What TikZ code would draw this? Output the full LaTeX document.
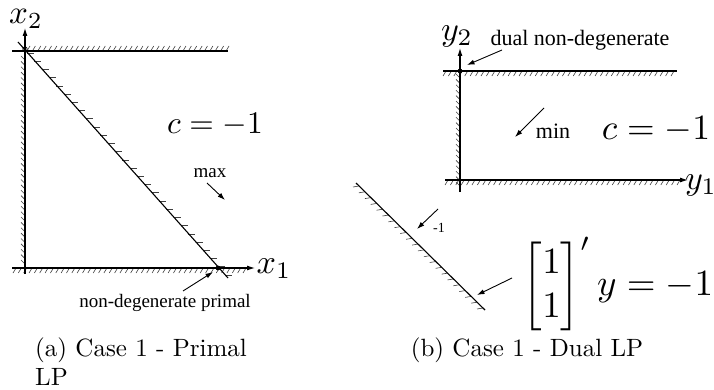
\documentclass[tikz,border=0pt]{standalone}
\usepackage{amsmath}
\usepackage{graphicx}
\usepackage{fontspec}
\newfontfamily\timesf{Liberation Serif}
\usetikzlibrary{calc,arrows.meta}
\newcommand\hatchline[4]{\foreach \i in {0,...,#3}{\draw[hatch] ($#1!\i/#3!#2$) -- ++(#4);}}
\begin{document}
\begin{tikzpicture}[x=1pt,y=-1pt,
  line/.style={line width=1.1pt},
  axis/.style={line width=1.1pt,-{Latex[length=8pt,width=5pt]}},
  hatch/.style={line width=0.6pt,black!75},
  arr/.style={line width=0.9pt,-{Latex[length=7.5pt,width=5pt]}},
  tlab/.style={inner sep=0pt,font=\timesf\fontsize{19}{22}\selectfont},
  tlabR/.style={inner sep=0pt,font=\timesf\fontsize{22}{26}\selectfont},
  mlab/.style={inner sep=0pt},
  captext/.style={inner sep=0pt}]
\useasboundingbox (0,0) rectangle (714,390);
% ---------------- left panel ----------------
\coordinate (x2tip) at (25,28);
\coordinate (x1tip) at (255,268);
\coordinate (x2base) at (25,274);
\coordinate (x1base) at (12,268);
\coordinate (topA) at (12,51);
\coordinate (topB) at (228,51);
\coordinate (diagA) at (18,42);
\coordinate (diagB) at (228,278);
\coordinate (pdot) at (218,268);
\hatchline{(25,60)}{(25,264)}{38}{-4,-4}
\hatchline{(27,51)}{(226,51)}{37}{3,-5}
\hatchline{(16,268)}{(246,268)}{43}{-3,5}
\hatchline{(27,53)}{(225,275)}{27}{7,0}
\draw[axis] (x2base) -- (x2tip);
\draw[axis] (x1base) -- (x1tip);
\draw[line] (topA) -- (topB);
\draw[line] (diagA) -- (diagB);
\fill (pdot) circle (2.4);
\draw[line width=0.7pt] (25,49) circle (2.2);
\node[mlab] (x2) at (26,19) {\scalebox{3.3}{$x_2$}};
\node[mlab] (x1) at (274,269) {\scalebox{3.4}{$x_1$}};
\node[mlab] (cL) at (215,125) {\scalebox{3.15}{$c=-1$}};
\node[tlab] (maxt) at (210,173) {max};
\coordinate (maxA) at (207,183);
\coordinate (maxB) at (225,200);
\draw[arr] (maxA) -- (maxB);
\node[tlab] (ndp) at (165,303) {non-degenerate primal};
\coordinate (ndpA) at (183,291);
\draw[arr] (ndpA) -- ($(pdot)+(-5,4)$);
% ---------------- right panel ----------------
\coordinate (y2tip) at (460,48);
\coordinate (y2base) at (460,192);
\coordinate (y1base) at (445,180);
\coordinate (y1tip) at (688,180);
\coordinate (rtopA) at (443,71);
\coordinate (rtopB) at (677,71);
\coordinate (ddot) at (460,71);
\coordinate (rdA) at (356,183);
\coordinate (rdB) at (485,310);
\hatchline{(460,78)}{(460,186)}{20}{-4,-4}
\hatchline{(446,71)}{(674,71)}{42}{-3,5}
\hatchline{(448,180)}{(680,180)}{43}{-3,5}
\hatchline{(359,186)}{(483,308)}{21}{-6,1}
\draw[axis] (y2base) -- (y2tip);
\draw[axis] (y1base) -- (y1tip);
\draw[line] (rtopA) -- (rtopB);
\draw[line] (rdA) -- (rdB);
\fill (ddot) circle (2.4);
\node[mlab] (y2) at (457,36) {\scalebox{3.4}{$y_2$}};
\node[mlab] (y1) at (701,185) {\scalebox{3.4}{$y_1$}};
\node[tlabR] (dnd) at (580,40) {dual non-degenerate};
\coordinate (dndA) at (502,50);
\draw[arr] (dndA) -- ($(ddot)+(7,-6)$);
\node[tlabR] (mint) at (553,131) {min};
\coordinate (minA) at (544,108);
\coordinate (minB) at (515,137);
\draw[arr] (minA) -- (minB);
\node[mlab] (cR) at (656,130) {\scalebox{3.55}{$c=-1$}};
\node[inner sep=0pt,font=\timesf\fontsize{14}{16}\selectfont] (m1) at (439,228) {-1};
\coordinate (m1A) at (438,209);
\coordinate (m1B) at (417,229);
\draw[arr] (m1A) -- (m1B);
\node[mlab] (eq) at (618,284) {\scalebox{3.7}{$\begin{bmatrix}1\\1\end{bmatrix}'y=-1$}};
\coordinate (eqA) at (512,278);
\coordinate (eqB) at (477,295);
\draw[arr] (eqA) -- (eqB);
% ---------------- captions ----------------
\node[captext,anchor=west] (capa) at (35,350) {\scalebox{2.5}{(a)\ Case 1 - Primal}};
\node[captext,anchor=west] (capa2) at (35,377) {\scalebox{2.5}{LP}};
\node[captext] (capb) at (527,350) {\scalebox{2.5}{(b)\ Case 1 - Dual LP}};
\end{tikzpicture}
\end{document}
